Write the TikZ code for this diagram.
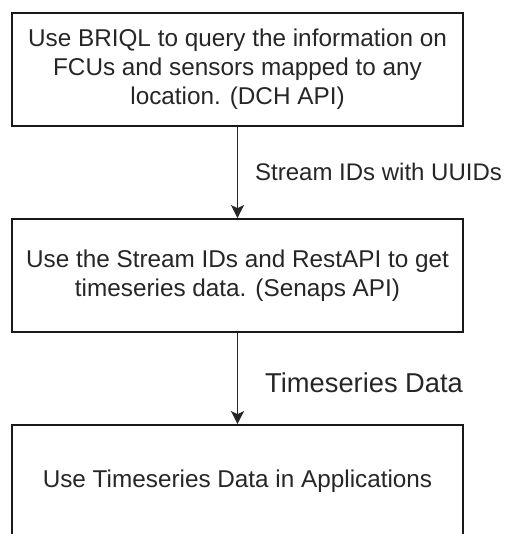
\documentclass[tikz,border=0pt]{standalone}
\usepackage{fontspec}
\setmainfont{Liberation Sans}
\usetikzlibrary{arrows.meta}
\definecolor{txt}{HTML}{262626}
\begin{document}
\begin{tikzpicture}[x=1pt,y=-1pt,
  box/.style={draw=black!90, line width=1.7pt, minimum width=451pt, minimum height=113pt, inner sep=0pt, align=center, font=\fontsize{24.3}{29}\selectfont, text=txt},
  conn/.style={line width=1.6pt, draw=black!85, -{Stealth[length=13pt,width=13pt,inset=3pt]}},
  lbl/.style={anchor=west, inner sep=0pt, text=txt}]
\useasboundingbox (0,0) rectangle (505,534);
\clip (0,0) rectangle (505,534);
\node[box] (b1) at (237.5,69.5) {Use BRIQL to query the information on\\FCUs and sensors mapped to any\\location. (DCH API)};
\node[box] (b2) at (237.5,275.5) {Use the Stream IDs and RestAPI to get\\timeseries data. (Senaps API)};
\node[box] (b3) at (237.5,481.5) {Use Timeseries Data in Applications};
\draw[conn] (b1.south) -- (b2.north);
\draw[conn] (b2.south) -- (b3.north);
\node[lbl, font=\fontsize{24}{29}\selectfont] (l1) at (255,172) {Stream IDs with UUIDs};
\node[lbl, font=\fontsize{27.3}{32}\selectfont] (l2) at (265,383) {Timeseries Data};
\end{tikzpicture}
\end{document}
